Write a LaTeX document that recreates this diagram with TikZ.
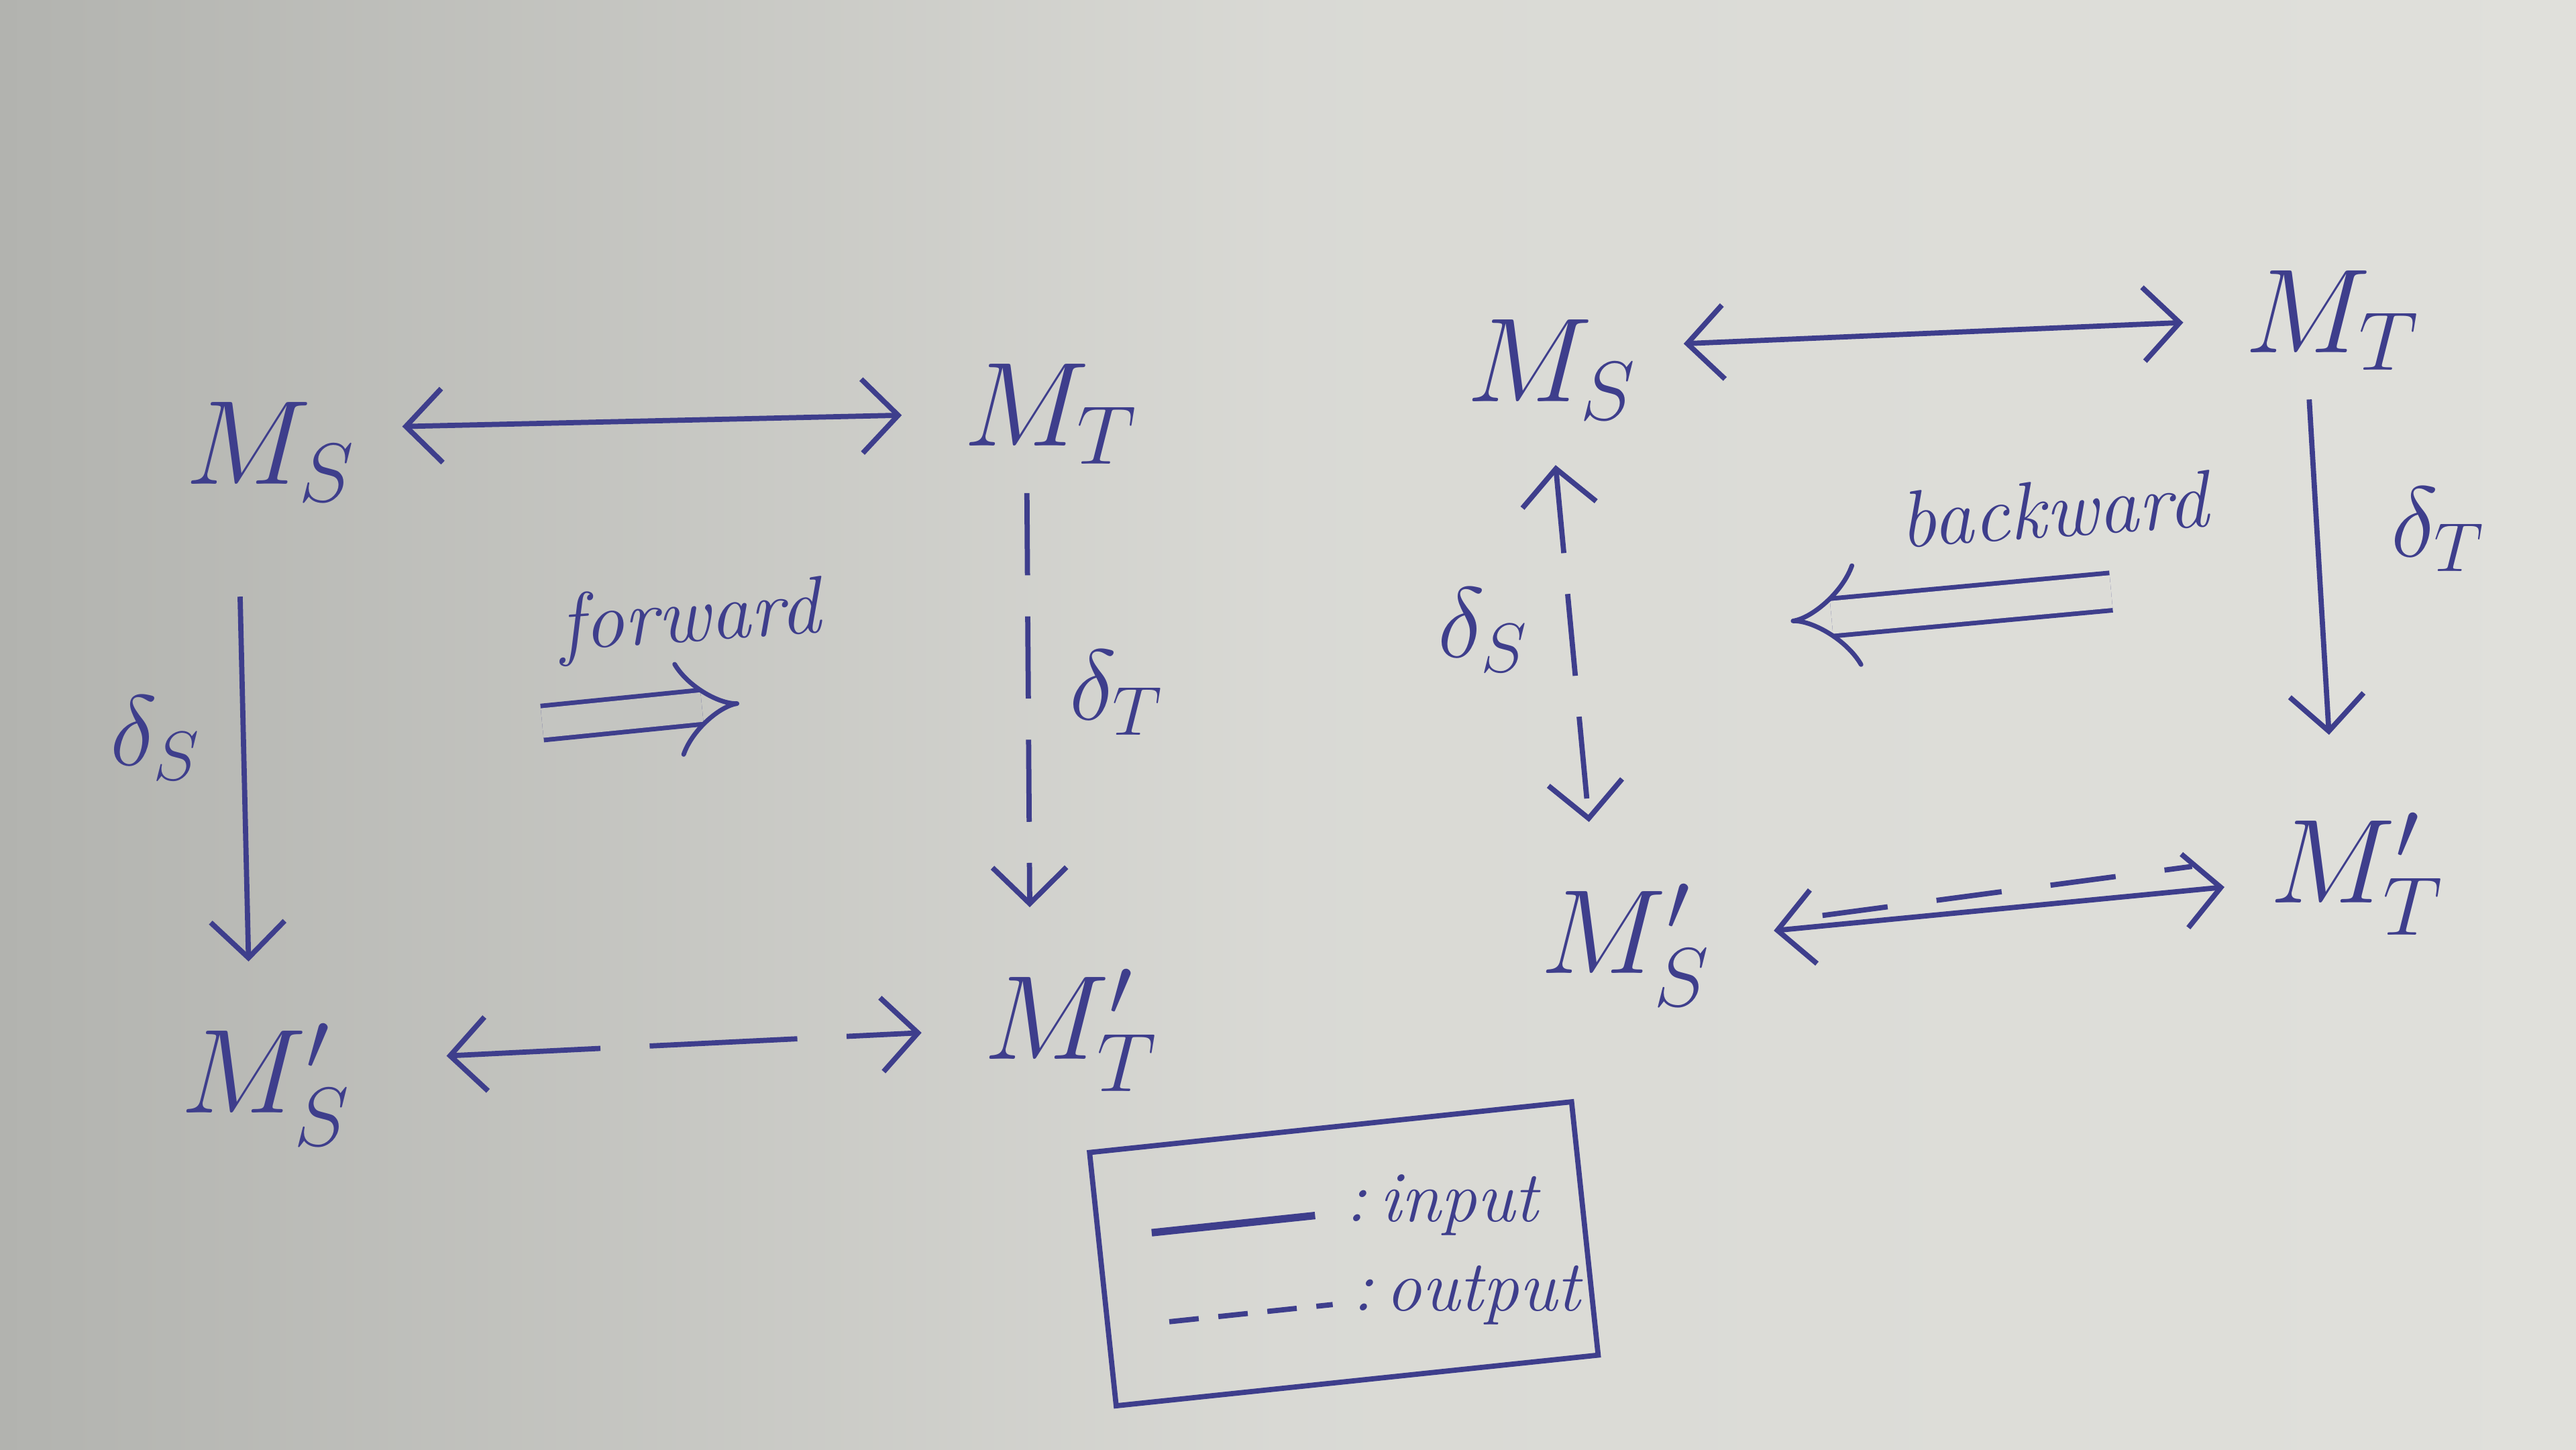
\documentclass[tikz,border=0pt]{standalone}
\usepackage{tikz}
\usetikzlibrary{arrows.meta, positioning, calc}
\usepackage{amsmath}
\definecolor{ink}{RGB}{62,62,140}
\definecolor{paper}{RGB}{224,224,219}
\definecolor{paperdark}{RGB}{178,179,175}

\begin{document}
\begin{tikzpicture}[
  >={Straight Barb[length=2.2mm,width=4.5mm]},
  model/.style={ink, font=\fontsize{22}{26}\selectfont, inner sep=2pt},
  delta/.style={ink, font=\fontsize{18}{22}\selectfont, inner sep=1pt},
  note/.style={ink, font=\fontsize{14}{16}\selectfont\itshape},
  keytext/.style={ink, font=\fontsize{12.5}{14}\selectfont\itshape, inner sep=1pt},
  arrow/.style={line width=0.9pt, ink},
  dasharrow/.style={arrow, dash pattern=on 5mm off 2.5mm},
  implies/.style={ink, line width=0.8pt, double distance=1.8mm, -{Implies}}
]

%% Paper
\shade[left color=paperdark, right color=paper, middle color=paper!85!paperdark]
  (0,0) rectangle (15.68,8.82);
\useasboundingbox (0,0) rectangle (15.68,8.82);

%% Forward square
\node[model] (ms1)  at (1.65,6.07) {$M_S$};
\node[model] (mt1)  at (6.40,6.30) {$M_T$};
\node[model] (msp1) at (1.62,2.22) {$M_S'$};
\node[model] (mtp1) at (6.52,2.55) {$M_T'$};

%% Backward square
\node[model] (ms2)  at (9.45,6.57) {$M_S$};
\node[model] (mt2)  at (14.20,6.87) {$M_T$};
\node[model] (msp2) at (9.90,3.07) {$M_S'$};
\node[model] (mtp2) at (14.35,3.50) {$M_T'$};

%% Direction notes
\node[note, rotate=4] (fwd) at (4.20,5.04) {forward};
\coordinate (fwdA) at (3.30,4.42);
\coordinate (fwdB) at (4.50,4.54);
\node[note, rotate=4] (bwd) at (12.50,5.72) {backward};
\coordinate (bwdA) at (12.85,5.22);
\coordinate (bwdB) at (10.90,5.04);

%% --- Arrows, forward ---
\draw[arrow, <->, shorten <=2mm, shorten >=3mm] ([yshift=1.5mm]ms1.east) -- (mt1.west);
\draw[arrow, ->, shorten <=5mm, shorten >=3mm]
  ([xshift=-2mm]ms1.south) -- ([xshift=-1mm]msp1.north)
  node[delta, left=2mm, pos=0.45] (ds1) {$\delta_S$};
\draw[dasharrow, ->, shorten <=1mm, shorten >=3mm]
  ([xshift=-1.5mm]mt1.south) -- ([xshift=-2.5mm]mtp1.north)
  node[delta, right=2mm, pos=0.45] (dt1) {$\delta_T$};
\draw[arrow, <->, dash pattern=on 9mm off 3mm, shorten <=5mm, shorten >=3mm]
  ([yshift=1.5mm]msp1.east) -- (mtp1.west);
\draw[implies, double=paper!40!paperdark] (fwdA) -- (fwdB);

%% --- Arrows, backward ---
\draw[arrow, <->, shorten <=2mm, shorten >=3mm] ([yshift=1.5mm]ms2.east) -- (mt2.west);
\draw[dasharrow, <->, shorten <=2mm, shorten >=3mm]
  (ms2.south) -- ([xshift=-2mm]msp2.north)
  node[delta, left=2mm, pos=0.45] (ds2) {$\delta_S$};
\draw[arrow, ->, shorten <=1mm, shorten >=4mm]
  ([xshift=-1.5mm]mt2.south) -- ([xshift=-1.5mm]mtp2.north)
  node[delta, right=4mm, pos=0.35] (dt2) {$\delta_T$};
\draw[arrow, <->, shorten <=3mm, shorten >=2mm] (msp2) -- (mtp2);
\draw[arrow, dash pattern=on 4mm off 3mm, shorten <=6mm, shorten >=4mm]
  ([yshift=1mm]msp2.east) -- ([yshift=1mm]mtp2.west);
\draw[ink, line width=0.8pt, double distance=2mm, double=paper!92!paperdark,
      -{Implies[length=3mm, width=9mm]}] (bwdA) -- (bwdB);

%% Legend
\node[draw=ink, line width=0.9pt, minimum width=2.95cm, minimum height=1.55cm,
      rotate=6] (legend) at (8.18,1.19) {};
\begin{scope}[shift={(legend.center)}, rotate=6]
  \draw[arrow, line width=1.3pt] (-1.15,0.25) -- (-0.15,0.25);
  \node[keytext, anchor=west] (lin) at (0.0,0.30) {:\,input};
  \draw[arrow, dash pattern=on 1.8mm off 1.2mm] (-1.1,-0.30) -- (-0.1,-0.30);
  \node[keytext, anchor=west] (lout) at (-0.02,-0.25) {:\,output};
\end{scope}

\end{tikzpicture}
\end{document}
